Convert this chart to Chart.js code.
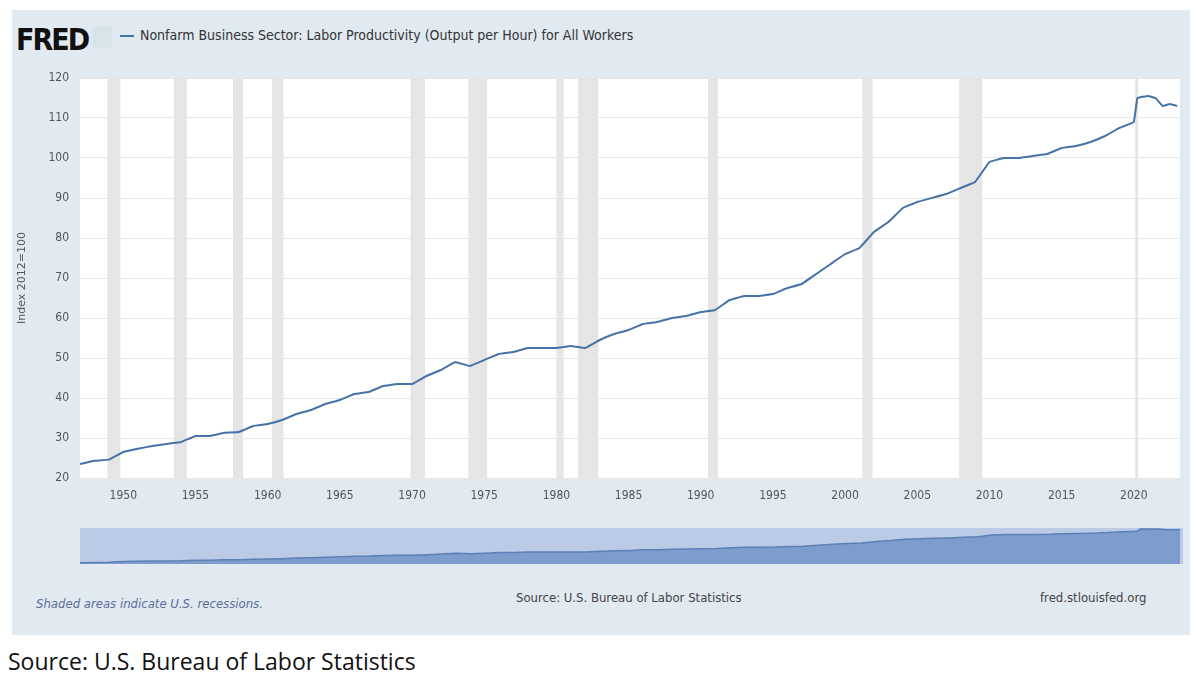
<!DOCTYPE html>
<html>
<head>
<meta charset="utf-8">
<script src="https://cdn.jsdelivr.net/npm/chart.js@4/dist/chart.umd.min.js"></script>
<style>
  body { margin: 0; background: #fff; width: 1196px; height: 682px; position: relative; overflow: hidden; font-family: "DejaVu Sans Condensed", "DejaVu Sans", sans-serif; }
  #panel { position: absolute; left: 12px; top: 10px; width: 1178px; height: 625px; background: #e1e9f1; }
  #logo { position: absolute; left: 4px; top: 12px; font: bold 30px "DejaVu Sans Condensed", sans-serif; letter-spacing: -2px; color: #111; }
  #icon { position: absolute; left: 80px; top: 16px; width: 20px; height: 22px; background: #d9e4ea; }
  #legend { position: absolute; left: 108px; top: 17px; font-size: 14px; color: #333; }
  #legend span { display: inline-block; width: 14px; height: 2px; background: #4572a7; vertical-align: middle; margin-right: 6px; }
  #main { position: absolute; left: 0; top: 50px; width: 1178px; height: 460px; }
  #nav { position: absolute; left: 68px; top: 518px; width: 1103px; height: 36px; }
  .foot { position: absolute; top: 580px; font-size: 13px; color: #444; }
  #bottom { position: absolute; left: 8px; top: 645px; font: 23px "Open Sans", sans-serif; color: #111; }
</style>
</head>
<body>
<div id="panel">
  <div id="logo">FRED</div>
  <div id="icon"></div>
  <div id="legend"><span></span>Nonfarm Business Sector: Labor Productivity (Output per Hour) for All Workers</div>
  <div id="main"><canvas id="chart"></canvas></div>
  <div id="nav"><canvas id="navChart"></canvas></div>
  <div class="foot" style="left:24px; font-style:italic; color:#5a6e9a; top:586px;">Shaded areas indicate U.S. recessions.</div>
  <div class="foot" style="left:504px;">Source: U.S. Bureau of Labor Statistics</div>
  <div class="foot" style="left:1028px;">fred.stlouisfed.org</div>
</div>
<div id="bottom">Source: U.S. Bureau of Labor Statistics</div>
<script>
const years = [1947, 1948, 1949, 1950, 1951, 1952, 1953, 1954, 1955, 1956, 1957, 1958, 1959, 1960, 1961, 1962, 1963, 1964, 1965, 1966, 1967, 1968, 1969, 1970, 1971, 1972, 1973, 1974, 1975, 1976, 1977, 1978, 1979, 1980, 1981, 1982, 1983, 1984, 1985, 1986, 1987, 1988, 1989, 1990, 1991, 1992, 1993, 1994, 1995, 1996, 1997, 1998, 1999, 2000, 2001, 2002, 2003, 2004, 2005, 2006, 2007, 2008, 2009, 2010, 2011, 2012, 2013, 2014, 2015, 2016, 2017, 2018, 2019, 2020, 2020.25, 2021, 2021.5, 2022, 2022.5, 2023];
const productivity = [23.5, 24.3, 24.6, 26.5, 27.3, 28, 28.5, 29, 30.5, 30.5, 31.3, 31.5, 33, 33.5, 34.5, 36, 37, 38.5, 39.5, 41, 41.5, 43, 43.5, 43.5, 45.5, 47, 49, 48, 49.5, 51, 51.5, 52.5, 52.5, 52.5, 53, 52.5, 54.5, 56, 57, 58.5, 59, 60, 60.5, 61.5, 62, 64.5, 65.5, 65.5, 66, 67.5, 68.5, 71, 73.5, 76, 77.5, 81.5, 84, 87.5, 89, 90, 91, 92.5, 94, 99, 100, 100, 100.5, 101, 102.5, 103, 104, 105.5, 107.5, 109, 115, 115.5, 115, 113, 113.5, 113];
const recessionStart = [1948.9, 1953.5, 1957.6, 1960.3, 1969.9, 1973.9, 1980.0, 1981.5, 1990.5, 2001.2, 2007.9, 2020.1];
const recessionEnd = [1949.8, 1954.4, 1958.3, 1961.1, 1970.9, 1975.2, 1980.5, 1982.9, 1991.2, 2001.9, 2009.5, 2020.3];
const xTicks = [1950, 1955, 1960, 1965, 1970, 1975, 1980, 1985, 1990, 1995, 2000, 2005, 2010, 2015, 2020];
const yTicks = [20, 30, 40, 50, 60, 70, 80, 90, 100, 110, 120];

const points = years.map((y, i) => ({ x: y, y: productivity[i] }));

const plotBg = {
  id: 'plotBg',
  beforeDraw(chart) {
    const { ctx, chartArea: a, scales } = chart;
    ctx.save();
    ctx.fillStyle = '#ffffff';
    ctx.fillRect(a.left, a.top, a.width, a.height);
    ctx.fillStyle = '#e5e5e5';
    recessionStart.forEach((s, i) => {
      const x0 = scales.x.getPixelForValue(s);
      const x1 = scales.x.getPixelForValue(recessionEnd[i]);
      ctx.fillRect(x0, a.top, Math.max(x1 - x0, 2), a.height);
    });
    ctx.restore();
  }
};

new Chart(document.getElementById('chart'), {
  type: 'line',
  data: { datasets: [{ data: points, borderColor: '#4572a7', borderWidth: 2, pointRadius: 0, tension: 0.05 }] },
  plugins: [plotBg],
  options: {
    responsive: true, maintainAspectRatio: false, animation: false,
    layout: { padding: { top: 18, right: 10, left: 0, bottom: 0 } },
    plugins: { legend: { display: false }, tooltip: { enabled: false } },
    scales: {
      x: {
        type: 'linear', min: 1947, max: 2023.2,
        afterBuildTicks(s) { s.ticks = xTicks.map(v => ({ value: v })); },
        afterFit(s) { s.height = 42; },
        grid: { display: false },
        border: { display: false },
        ticks: { color: '#555', font: { size: 12, family: 'DejaVu Sans Condensed' }, maxRotation: 0, callback: v => String(v) }
      },
      y: {
        min: 20, max: 120,
        afterBuildTicks(s) { s.ticks = yTicks.map(v => ({ value: v })); },
        afterFit(s) { s.width = 68; },
        grid: { color: '#e6e6e6' },
        border: { display: false },
        title: { display: true, text: 'Index 2012=100', color: '#555', font: { size: 11, family: 'DejaVu Sans' } },
        ticks: { color: '#555', font: { size: 12, family: 'DejaVu Sans Condensed' } }
      }
    }
  }
});

new Chart(document.getElementById('navChart'), {
  type: 'line',
  data: { datasets: [{ data: points, borderColor: '#5b7fb8', borderWidth: 1.5, pointRadius: 0, fill: 'start', backgroundColor: '#7f9dcc' }] },
  plugins: [{
    id: 'navBg',
    beforeDraw(chart) {
      const { ctx, chartArea: a } = chart;
      ctx.save();
      ctx.fillStyle = '#bccbe5';
      ctx.fillRect(a.left, a.top, a.width, a.height);
      ctx.restore();
    }
  }],
  options: {
    responsive: true, maintainAspectRatio: false, animation: false,
    layout: { padding: 0 },
    plugins: { legend: { display: false }, tooltip: { enabled: false } },
    scales: {
      x: { type: 'linear', min: 1947, max: 2023.2, display: false },
      y: { min: 20, max: 118, display: false }
    }
  }
});
</script>
</body>
</html>
